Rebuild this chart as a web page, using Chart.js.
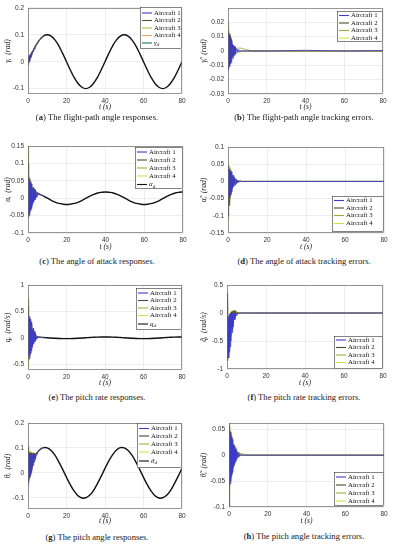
<!DOCTYPE html>
<html>
<head>
<meta charset="utf-8">
<script src="https://cdn.jsdelivr.net/npm/chart.js@4.4.1/dist/chart.umd.min.js"></script>
<style>
  body { margin: 0; background: #fff; }
  #page { position: relative; width: 393px; height: 550px; overflow: hidden; background: #fff; }
  canvas { position: absolute; }
  .cap { position: absolute; font-family: 'Liberation Serif', 'DejaVu Serif', serif; font-size: 8.6px; line-height: 10px; color: #1a1a1a; text-align: center; white-space: nowrap; }
</style>
</head>
<body>
<div id="page">
  <canvas id="pa" width="196" height="113"></canvas>
  <canvas id="pb" width="197" height="113"></canvas>
  <canvas id="pc" width="196" height="115"></canvas>
  <canvas id="pd" width="197" height="115"></canvas>
  <canvas id="pe" width="196" height="114"></canvas>
  <canvas id="pf" width="197" height="114"></canvas>
  <canvas id="pg" width="196" height="115"></canvas>
  <canvas id="ph" width="197" height="115"></canvas>
  <div class="cap" style="left:0;width:194px;top:112px">(<b>a</b>) The flight-path angle responses.</div>
  <div class="cap" style="left:200px;width:208px;top:112px">(<b>b</b>) The flight-path angle tracking errors.</div>
  <div class="cap" style="left:0;width:194px;top:256px">(<b>c</b>) The angle of attack responses.</div>
  <div class="cap" style="left:200px;width:208px;top:256px">(<b>d</b>) The angle of attack tracking errors.</div>
  <div class="cap" style="left:0;width:194px;top:392px">(<b>e</b>) The pitch rate responses.</div>
  <div class="cap" style="left:200px;width:208px;top:392px">(<b>f</b>) The pitch rate tracking errors.</div>
  <div class="cap" style="left:0;width:194px;top:532px">(<b>g</b>) The pitch angle responses.</div>
  <div class="cap" style="left:200px;width:208px;top:531px">(<b>h</b>) The pitch angle tracking errors.</div>
</div>
<script>
// ---- data ----
const aircraftNames = ['Aircraft 1', 'Aircraft 2', 'Aircraft 3', 'Aircraft 4'];
const xTicks = [0, 20, 40, 60, 80];

// reference trajectories, sampled every 2 s
const tRef = [0,2,4,6,8,10,12,14,16,18,20,22,24,26,28,30,32,34,36,38,40,42,44,46,48,50,52,54,56,58,60,62,64,66,68,70,72,74,76,78,80];
const gammaD = [0,0.031,0.059,0.081,0.095,0.1,0.095,0.081,0.059,0.031,0,-0.031,-0.059,-0.081,-0.095,-0.1,-0.095,-0.081,-0.059,-0.031,0,0.031,0.059,0.081,0.095,0.1,0.095,0.081,0.059,0.031,0,-0.031,-0.059,-0.081,-0.095,-0.1,-0.095,-0.081,-0.059,-0.031,0];
const alphaD = [0.018,0.017,0.015,0.011,0.006,0,-0.006,-0.011,-0.015,-0.017,-0.018,-0.017,-0.015,-0.011,-0.006,0,0.006,0.011,0.015,0.017,0.018,0.017,0.015,0.011,0.006,0,-0.006,-0.011,-0.015,-0.017,-0.018,-0.017,-0.015,-0.011,-0.006,0,0.006,0.011,0.015,0.017,0.018];
const qD = [0.016,0.015,0.013,0.0095,0.005,0,-0.005,-0.0095,-0.013,-0.015,-0.016,-0.015,-0.013,-0.0095,-0.005,0,0.005,0.0095,0.013,0.015,0.016,0.015,0.013,0.0095,0.005,0,-0.005,-0.0095,-0.013,-0.015,-0.016,-0.015,-0.013,-0.0095,-0.005,0,0.005,0.0095,0.013,0.015,0.016];
const thetaD = [0.018,0.048,0.073,0.092,0.101,0.1,0.09,0.071,0.044,0.014,-0.018,-0.048,-0.073,-0.092,-0.101,-0.1,-0.09,-0.071,-0.044,-0.014,0.018,0.048,0.073,0.092,0.101,0.1,0.09,0.071,0.044,0.014,-0.018,-0.048,-0.073,-0.092,-0.101,-0.1,-0.09,-0.071,-0.044,-0.014,0.018];

// transient sample times (s) and the settled tail used by the error plots
const tFast = [0,0.2,0.4,0.6,0.8,1,1.2,1.4,1.6,1.8,2,2.3,2.6,2.9,3.2,3.6,4,4.5,5,5.5,6,7,8];
const tTail = [10,12,20,40,60,80];

// (a) flight-path angle responses
const gammaA1 = [-0.012,0.013,-0.005,0.018,0.004,0.024,0.012,0.028,0.02,0.033,0.027,0.039,0.037,0.046,0.046,0.056,0.058,0.065,0.07,0.076,0.081,0.089,0.095];
const gammaA2 = [0.014,-0.007,0.018,0,0.022,0.009,0.026,0.016,0.03,0.024,0.035,0.033,0.042,0.042,0.05,0.053,0.06,0.064,0.071,0.076,0.081,0.089,0.095];
const gammaA3 = [0.02,-0.009,0.021,-0.001,0.023,0.008,0.026,0.017,0.03,0.025,0.034,0.038,0.043,0.046,0.05,0.056,0.061,0.066,0.073,0.078,0.082,0.09,0.095];
const gammaA4 = [0.017,-0.01,0.019,-0.001,0.024,0.008,0.027,0.016,0.031,0.024,0.035,0.033,0.043,0.042,0.046,0.052,0.057,0.062,0.07,0.075,0.081,0.089,0.095];
// (b) flight-path angle tracking errors
const gammaErrA1 = [-0.012,0.012,-0.013,0.011,-0.011,0.01,-0.009,0.008,-0.008,0.007,-0.006,0.005,-0.005,0.004,-0.003,0.003,-0.002,0.0015,-0.001,0.001,-0.0005,0.0003,0,0,0,0,0.0005,0,0.0003];
const gammaErrA2 = [0.005,-0.008,0.014,-0.01,0.012,-0.009,0.01,-0.007,0.008,-0.006,0.006,-0.004,0.004,-0.003,0.003,-0.002,0.002,0.001,0.0005,0,0,0,0,0,0,0,0,0,0];
const gammaErrA3 = [0.02,-0.006,0.016,-0.008,0.012,-0.006,0.009,-0.005,0.007,-0.004,0.005,0.003,0.004,0.002,0.003,0.002,0.002,0.002,0.002,0.002,0.002,0.002,0.0015,0.001,0,0,0,0,0];
const gammaErrA4 = [0.017,-0.01,0.015,-0.009,0.012,-0.007,0.009,-0.006,0.007,-0.005,0.005,-0.003,0.003,-0.002,-0.002,-0.002,-0.002,-0.002,-0.0015,-0.001,-0.001,-0.0005,0,0,0,0,0,0,0];
// (c) angle of attack responses
const alphaA1 = [0.03,-0.045,0.06,-0.05,0.05,-0.04,0.045,-0.035,0.04,-0.03,0.035,-0.02,0.03,-0.012,0.025,-0.005,0.02,0.002,0.016,0.01,0.012,0.009,0.006];
const alphaA2 = [0.1,-0.055,0.065,-0.045,0.055,-0.035,0.045,-0.03,0.04,-0.025,0.035,-0.015,0.03,-0.008,0.025,-0.002,0.02,0.004,0.016,0.011,0.012,0.009,0.006];
const alphaA3 = [0.15,-0.05,0.07,-0.04,0.06,-0.03,0.05,-0.025,0.042,-0.02,0.036,-0.012,0.03,-0.005,0.025,0,0.02,0.005,0.016,0.012,0.012,0.009,0.006];
const alphaA4 = [0.09,-0.03,0.06,-0.035,0.05,-0.03,0.045,-0.02,0.04,-0.015,0.034,-0.01,0.028,-0.004,0.024,0.001,0.02,0.006,0.016,0.012,0.012,0.009,0.006];
// (d) angle of attack tracking errors
const alphaErrA1 = [0.045,-0.05,0.04,-0.045,0.035,-0.04,0.03,-0.035,0.028,-0.03,0.024,-0.022,0.018,-0.015,0.012,-0.01,0.008,-0.006,0.004,-0.003,0.002,-0.001,0,0,0,0,0,0,0];
const alphaErrA2 = [0.02,-0.1,0.03,-0.07,0.03,-0.05,0.025,-0.04,0.02,-0.03,0.018,-0.02,0.014,-0.012,0.01,-0.008,0.006,-0.004,0.003,-0.002,0.001,0,0,0,0,0,0,0,0];
const alphaErrA3 = [0.03,-0.11,0.045,-0.06,0.04,-0.045,0.035,-0.035,0.028,-0.028,0.02,-0.018,0.015,-0.012,0.01,-0.007,0.006,-0.004,0.003,-0.002,0.001,0,0,0,0,0,0,0,0];
const alphaErrA4 = [0.05,-0.08,0.055,-0.055,0.045,-0.045,0.035,-0.035,0.03,-0.025,0.022,-0.018,0.016,-0.012,0.01,-0.007,0.005,-0.004,0.003,-0.002,0.001,0,0,0,0,0,0,0,0];
// (e) pitch rate responses
const qA1 = [0.3,-0.35,0.45,-0.4,0.4,-0.35,0.35,-0.3,0.3,-0.25,0.25,-0.18,0.18,-0.12,0.12,-0.07,0.07,-0.03,0.03,0.005,0.0095,0.007,0.005];
const qA2 = [0.6,-0.3,0.4,-0.3,0.35,-0.25,0.3,-0.22,0.25,-0.2,0.2,-0.15,0.15,-0.1,0.1,-0.05,0.05,-0.02,0.025,0.005,0.0095,0.007,0.005];
const qA3 = [0.75,-0.45,0.45,-0.35,0.35,-0.3,0.3,-0.25,0.25,-0.18,0.18,-0.12,0.12,-0.08,0.08,-0.04,0.04,-0.01,0.02,0.005,0.0095,0.007,0.005];
const qA4 = [0.7,-0.55,0.5,-0.4,0.4,-0.3,0.32,-0.25,0.26,-0.2,0.2,-0.14,0.14,-0.09,0.09,-0.05,0.05,-0.02,0.02,0.005,0.0095,0.007,0.005];
// (f) pitch rate tracking errors
const qErrA1 = [0.35,-0.3,-0.75,-0.1,-0.8,-0.05,-0.7,-0.02,-0.6,0,-0.5,0,-0.35,0,-0.25,0,-0.12,0,-0.05,0,-0.01,0,0,0,0,0,0,0,0];
const qErrA2 = [0.2,-0.4,-0.85,-0.2,-0.8,-0.1,-0.65,-0.05,-0.5,0,-0.4,0.02,-0.28,0.03,-0.18,0.04,-0.08,0.03,-0.02,0.01,0,0,0,0,0,0,0,0,0];
const qErrA3 = [0.1,-0.3,-0.7,-0.15,-0.7,-0.1,-0.6,-0.03,-0.5,0.01,-0.4,0.03,-0.3,0.04,-0.2,0.05,-0.1,0.04,-0.03,0.02,0,0,0,0,0,0,0,0,0];
const qErrA4 = [0.05,-0.2,-0.6,-0.1,-0.65,-0.05,-0.55,0,-0.45,0.02,-0.35,0.03,-0.25,0.04,-0.15,0.04,-0.08,0.03,-0.02,0.01,0,0,0,0,0,0,0,0,0];
// (g) pitch angle responses
const thetaA1 = [-0.05,0.07,-0.04,0.075,-0.02,0.075,-0.01,0.075,0,0.075,0.01,0.075,0.03,0.075,0.045,0.072,0.06,0.078,0.08,0.087,0.091,0.097,0.1];
const thetaA2 = [0.1,-0.03,0.08,-0.02,0.08,-0.01,0.08,0,0.08,0.01,0.08,0.02,0.08,0.04,0.078,0.055,0.074,0.072,0.083,0.087,0.091,0.097,0.1];
const thetaA3 = [0.11,-0.04,0.09,-0.03,0.085,-0.02,0.085,-0.01,0.08,0.01,0.08,0.025,0.08,0.04,0.08,0.055,0.076,0.07,0.083,0.087,0.091,0.097,0.1];
const thetaA4 = [0.105,-0.02,0.085,-0.015,0.08,0,0.08,0.005,0.08,0.015,0.078,0.03,0.078,0.045,0.076,0.06,0.075,0.073,0.083,0.087,0.091,0.097,0.1];
// (h) pitch angle tracking errors
const thetaErrA1 = [0.05,-0.06,0.045,-0.055,0.04,-0.045,0.035,-0.038,0.03,-0.032,0.025,-0.024,0.018,-0.016,0.012,-0.01,0.007,-0.005,0.003,-0.002,0.001,0,0,0,0,0,0,0,0];
const thetaErrA2 = [-0.1,0.055,-0.06,0.045,-0.05,0.038,-0.04,0.032,-0.034,0.026,-0.028,0.02,-0.02,0.014,-0.013,0.01,-0.008,0.006,-0.004,0.003,-0.001,0,0,0,0,0,0,0,0];
const thetaErrA3 = [0.06,-0.1,0.055,-0.05,0.045,-0.04,0.038,-0.032,0.032,-0.026,0.026,-0.018,0.02,-0.012,0.015,-0.007,0.01,-0.003,0.006,0.004,0.003,0.002,0.001,0,0,0,0,0,0];
const thetaErrA4 = [0.065,-0.07,0.05,-0.045,0.042,-0.036,0.036,-0.028,0.03,-0.022,0.024,-0.015,0.018,-0.01,0.013,-0.005,0.009,0,0.006,0.004,0.003,0.002,0.001,0,0,0,0,0,0];

// y tick labels per panel
const yTicksA = [-0.1, 0, 0.1, 0.2];
const yTicksB = [-0.03, -0.02, -0.01, 0, 0.01, 0.02];
const yTicksC = [-0.1, -0.05, 0, 0.05, 0.1, 0.15];
const yTicksD = [-0.15, -0.1, -0.05, 0, 0.05, 0.1];
const yTicksE = [-0.5, 0, 0.5, 1];
const yTicksF = [-1, -0.5, 0, 0.5];
const yTicksG = [-0.1, 0, 0.1, 0.2];
const yTicksH = [-0.1, -0.05, 0, 0.05];

// ---- styling ----
const COLORS = ['#3b3bd2', '#4f4a26', '#a9a936', '#dcdc4a'];
const COLORS_A = ['#3b3bd2', '#56512c', '#b8b84a', '#f2a65e'];
const SERIF = "'Liberation Serif', 'DejaVu Serif', serif";
const SANS = "'Liberation Sans', Arial, sans-serif";
const tErr = tFast.concat(tTail);

// frame around the plot area + boxed legend drawn inside the axes
const boxLegend = {
  id: 'boxLegend',
  afterDraw(chart, args, opts) {
    const ctx = chart.ctx;
    const a = chart.chartArea;
    ctx.save();
    ctx.strokeStyle = '#6a6a6a';
    ctx.lineWidth = 0.7;
    ctx.strokeRect(a.left + 0.5, a.top + 0.5, a.right - a.left - 1, a.bottom - a.top - 1);

    const bx = opts.box[0] - opts.ox, by = opts.box[1] - opts.oy;
    ctx.fillStyle = '#fff';
    ctx.fillRect(bx, by, opts.box[2], opts.box[3]);
    ctx.strokeStyle = '#333';
    ctx.lineWidth = 0.6;
    ctx.strokeRect(bx + 0.5, by + 0.5, opts.box[2] - 1, opts.box[3] - 1);
    ctx.textBaseline = 'middle';
    opts.items.forEach((it, i) => {
      const y = opts.rows[i] - opts.oy;
      ctx.strokeStyle = it.color;
      ctx.lineWidth = 1.1;
      ctx.beginPath();
      ctx.moveTo(bx + 2, y);
      ctx.lineTo(bx + 12, y);
      ctx.stroke();
      ctx.fillStyle = '#111';
      if (it.sub) {
        ctx.font = 'italic 7px ' + SERIF;
        ctx.fillText(it.text, bx + 14, y);
        const w = ctx.measureText(it.text).width;
        ctx.font = 'italic 5px ' + SERIF;
        ctx.fillText(it.sub, bx + 14 + w, y + 2);
      } else {
        ctx.font = '6.8px ' + SERIF;
        ctx.fillText(it.text, bx + 14, y);
      }
    });
    ctx.restore();
  }
};

function buildPanel(p) {
  const canvas = document.getElementById(p.id);
  const ox = p.col === 0 ? 0 : 196;
  const oy = p.top;
  canvas.style.left = ox + 'px';
  canvas.style.top = oy + 'px';
  const cw = canvas.width, ch = canvas.height;

  const datasets = p.series.map((vals, i) => ({
    label: aircraftNames[i],
    data: p.times.map((t, k) => ({ x: t, y: vals[k] })),
    borderColor: p.colors[i],
    borderWidth: 0.8,
    pointRadius: 0,
    tension: 0,
  }));
  if (p.ref) {
    datasets.push({
      label: p.refLabel,
      data: tRef.map((t, k) => ({ x: t, y: p.ref[k] })),
      borderColor: '#111',
      borderWidth: 1.4,
      pointRadius: 0,
      tension: 0.4,
    });
  }

  const items = aircraftNames.map((n, i) => ({ text: n, color: p.colors[i] }));
  if (p.ref) items.push({ text: p.refLabel, sub: 'd', color: p.refLegendColor || '#111' });

  const tickFont = { family: SANS, size: 6.5 };
  const titleFont = { family: SERIF, size: 7.6, style: 'italic' };

  new Chart(canvas, {
    type: 'line',
    data: { datasets },
    options: {
      responsive: false,
      animation: false,
      events: [],
      layout: { padding: { left: 0, right: ox + cw - p.area[2], top: p.area[1] - oy, bottom: 0 } },
      plugins: {
        legend: { display: false },
        tooltip: { enabled: false },
        boxLegend: { box: p.legendBox, rows: p.legendRows, items, ox, oy },
      },
      scales: {
        x: {
          type: 'linear',
          min: 0,
          max: 80,
          afterBuildTicks: (s) => { s.ticks = xTicks.map((v) => ({ value: v })); },
          afterFit: (s) => { s.height = oy + ch - p.area[3]; },
          grid: { color: '#e3e3e3', lineWidth: 0.6, drawTicks: false },
          border: { display: false },
          ticks: { padding: 3, font: tickFont, color: '#333', maxRotation: 0, callback: (v) => String(v) },
          title: { display: true, text: 't (s)', font: titleFont, color: '#222', padding: { top: 0, bottom: 1 } },
        },
        y: {
          type: 'linear',
          min: p.yRange[0],
          max: p.yRange[1],
          afterBuildTicks: (s) => { s.ticks = p.yTicks.map((v) => ({ value: v })); },
          afterFit: (s) => { s.width = p.area[0] - ox; },
          grid: { color: '#e3e3e3', lineWidth: 0.6, drawTicks: false },
          border: { display: false },
          ticks: { padding: 4, font: tickFont, color: '#333', callback: (v) => String(v) },
          title: { display: true, text: p.yTitle, font: titleFont, color: '#222', padding: { top: 3, bottom: 2 } },
        },
      },
    },
    plugins: [boxLegend],
  });
}

const panels = [
  { id: 'pa', col: 0, top: 0, area: [28, 7, 182, 94], yRange: [-0.12, 0.2], yTicks: yTicksA, yTitle: 'γᵢ  (rad)',
    times: tFast, series: [gammaA1, gammaA2, gammaA3, gammaA4], colors: COLORS_A, ref: gammaD, refLabel: 'γ', refLegendColor: '#167a5c',
    legendBox: [140, 7, 42, 42], legendRows: [13, 20.5, 28, 35.5, 43] },
  { id: 'pb', col: 1, top: 0, area: [228, 8, 383, 94], yRange: [-0.03, 0.03], yTicks: yTicksB, yTitle: 'γ̃ᵢ  (rad)',
    times: tErr, series: [gammaErrA1, gammaErrA2, gammaErrA3, gammaErrA4], colors: COLORS,
    legendBox: [337, 11, 46, 31], legendRows: [15.5, 23, 30.5, 38] },
  { id: 'pc', col: 0, top: 138, area: [28, 146, 183, 233], yRange: [-0.1, 0.15], yTicks: yTicksC, yTitle: 'αᵢ  (rad)',
    times: tFast, series: [alphaA1, alphaA2, alphaA3, alphaA4], colors: COLORS, ref: alphaD, refLabel: 'α',
    legendBox: [135, 147, 48, 42], legendRows: [152, 160, 168, 176, 184.5] },
  { id: 'pd', col: 1, top: 138, area: [228, 147, 384, 233], yRange: [-0.15, 0.1], yTicks: yTicksD, yTitle: 'α̃ᵢ  (rad)',
    times: tErr, series: [alphaErrA1, alphaErrA2, alphaErrA3, alphaErrA4], colors: COLORS,
    legendBox: [332, 196, 52, 36], legendRows: [200.5, 208, 215.5, 223.5] },
  { id: 'pe', col: 0, top: 275, area: [28, 285, 182, 370], yRange: [-0.61, 1], yTicks: yTicksE, yTitle: 'qᵢ  (rad/s)',
    times: tFast, series: [qA1, qA2, qA3, qA4], colors: COLORS, ref: qD, refLabel: 'q',
    legendBox: [136, 288, 46, 42], legendRows: [293, 300.5, 308, 315.5, 324] },
  { id: 'pf', col: 1, top: 275, area: [227, 285, 383, 369], yRange: [-1, 0.5], yTicks: yTicksF, yTitle: 'q̃ᵢ  (rad/s)',
    times: tErr, series: [qErrA1, qErrA2, qErrA3, qErrA4], colors: COLORS,
    legendBox: [334, 336, 49, 33], legendRows: [340, 347.5, 355, 362.5] },
  { id: 'pg', col: 0, top: 412, area: [28, 423, 182, 509], yRange: [-0.145, 0.2], yTicks: yTicksG, yTitle: 'θᵢ  (rad)',
    times: tFast, series: [thetaA1, thetaA2, thetaA3, thetaA4], colors: COLORS, ref: thetaD, refLabel: 'θ',
    legendBox: [137, 423, 45, 45], legendRows: [428.5, 436, 444, 452, 461] },
  { id: 'ph', col: 1, top: 412, area: [229, 423, 384, 507], yRange: [-0.1, 0.062], yTicks: yTicksH, yTitle: 'θ̃ᵢ  (rad)',
    times: tErr, series: [thetaErrA1, thetaErrA2, thetaErrA3, thetaErrA4], colors: COLORS,
    legendBox: [334, 472, 50, 34], legendRows: [477, 485, 493, 501] },
];

panels.forEach(buildPanel);
</script>
</body>
</html>
